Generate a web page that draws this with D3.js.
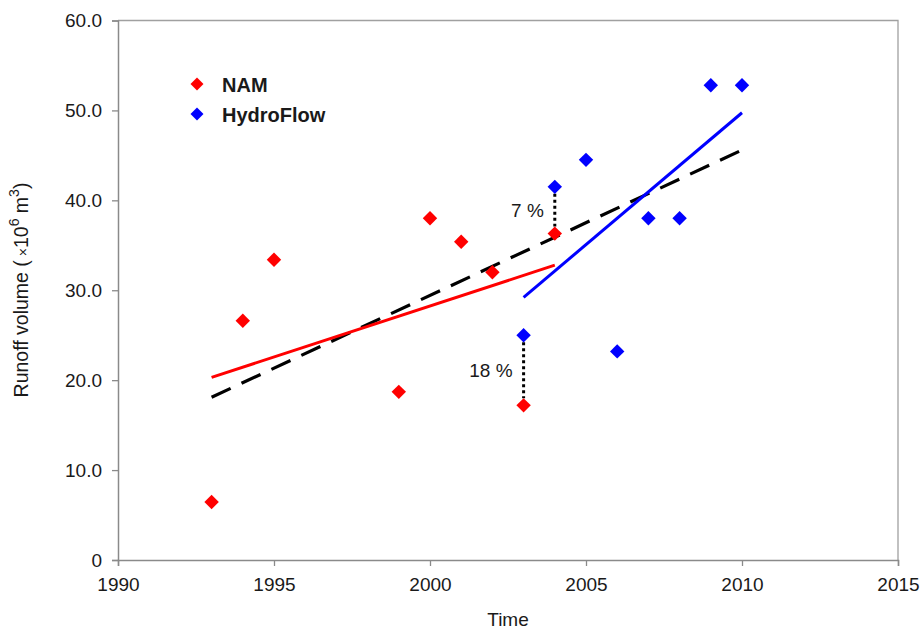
<!DOCTYPE html>
<html>
<head>
<meta charset="utf-8">
<script src="https://cdn.jsdelivr.net/npm/d3@7"></script>
<style>
  html, body { margin: 0; padding: 0; background: #fff; }
  svg { display: block; font-family: "Liberation Sans", Arial, sans-serif; }
</style>
</head>
<body>
<svg id="chart" width="922" height="629"></svg>
<script>
// Annual runoff volumes (x10^6 m^3) from the two models
const namYears = [1993, 1994, 1995, 1999, 2000, 2001, 2002, 2003, 2004];
const namValues = [6.45, 26.6, 33.4, 18.7, 38.0, 35.4, 32.0, 17.2, 36.3];

const hydroYears = [2003, 2004, 2005, 2006, 2007, 2008, 2009, 2010];
const hydroValues = [25.0, 41.5, 44.5, 23.2, 38.0, 38.0, 52.8, 52.8];

// Overall trend (dashed line) endpoints
const overallTrendYears = [1993, 2010];
const overallTrendValues = [18.1, 45.6];

// Overlap years annotated with the model difference
const gapYears = [2003, 2004];
const gapLabels = ["18 %", "7 %"];

const xTicks = [1990, 1995, 2000, 2005, 2010, 2015];
const yTicks = [0, 10, 20, 30, 40, 50, 60];

const seriesNames = ["NAM", "HydroFlow"];
const seriesColors = ["#ff0000", "#0000ff"];

const svg = d3.select("#chart");

const x = d3.scaleLinear().domain([1990, 2015]).range([118, 898]);
const y = d3.scaleLinear().domain([0, 60]).range([560, 20.5]);

const axisColor = "#8a8a8a";
const textColor = "#1a1a1a";

// Plot frame (top and right edges)
svg.append("path")
  .attr("d", `M${x(1990)},${y(60)}H${x(2015)}V${y(0)}`)
  .attr("fill", "none")
  .attr("stroke", "#a0a0a0")
  .attr("stroke-width", 1.3);

// Axes
const yAxis = d3.axisLeft(y).tickValues(yTicks).tickSize(6).tickPadding(10)
  .tickFormat(d => d === 0 ? "0" : d3.format(".1f")(d));
const gy = svg.append("g").attr("transform", `translate(${x(1990)},0)`).call(yAxis);

const xAxis = d3.axisBottom(x).tickValues(xTicks).tickSize(6).tickPadding(12)
  .tickFormat(d3.format("d"));
const gx = svg.append("g").attr("transform", `translate(0,${y(0)})`).call(xAxis);

[gx, gy].forEach(g => {
  g.select(".domain").attr("stroke", axisColor).attr("stroke-width", 1.5);
  g.selectAll(".tick line").attr("stroke", axisColor).attr("stroke-width", 1.3);
  g.selectAll(".tick text")
    .attr("fill", textColor)
    .style("font-size", "19px")
    .style("font-family", "'Liberation Sans', Arial, sans-serif");
});

// Axis titles
svg.append("text")
  .attr("x", 508).attr("y", 626)
  .attr("text-anchor", "middle")
  .attr("fill", textColor)
  .style("font-size", "19px")
  .text("Time");

const yTitle = svg.append("text")
  .attr("transform", `translate(28,290) rotate(-90)`)
  .attr("text-anchor", "middle")
  .attr("fill", textColor)
  .style("font-size", "19.5px");
yTitle.append("tspan").text("Runoff volume (");
yTitle.append("tspan").style("font-size", "14px").text(" \u00d7");
yTitle.append("tspan").text("10");
yTitle.append("tspan").attr("dy", -9).style("font-size", "14px").text("6");
yTitle.append("tspan").attr("dy", 9).text(" m");
yTitle.append("tspan").attr("dy", -9).style("font-size", "14px").text("3");
yTitle.append("tspan").attr("dy", 9).text(")");

// Least-squares trend over a series
function linearFit(xs, ys) {
  const mx = d3.mean(xs), my = d3.mean(ys);
  let sxy = 0, sxx = 0;
  xs.forEach((v, i) => { sxy += (v - mx) * (ys[i] - my); sxx += (v - mx) * (v - mx); });
  const b = sxy / sxx;
  const a = my - b * mx;
  const x0 = d3.min(xs), x1 = d3.max(xs);
  return [[x0, a + b * x0], [x1, a + b * x1]];
}

const line = d3.line().x(d => x(d[0])).y(d => y(d[1]));

// Overall dashed trend
svg.append("path")
  .datum(overallTrendYears.map((yr, i) => [yr, overallTrendValues[i]]))
  .attr("d", line)
  .attr("fill", "none")
  .attr("stroke", "#000")
  .attr("stroke-width", 3.2)
  .attr("stroke-dasharray", "21,12");

// Per-model trends
const series = [
  { years: namYears, values: namValues },
  { years: hydroYears, values: hydroValues }
];
series.forEach((s, i) => {
  svg.append("path")
    .datum(linearFit(s.years, s.values))
    .attr("d", line)
    .attr("fill", "none")
    .attr("stroke", seriesColors[i])
    .attr("stroke-width", 3);
});

// Dotted connectors between models in overlap years
gapYears.forEach((yr, i) => {
  const vNam = namValues[namYears.indexOf(yr)];
  const vHyd = hydroValues[hydroYears.indexOf(yr)];
  svg.append("line")
    .attr("x1", x(yr)).attr("x2", x(yr))
    .attr("y1", y(vHyd) + 7).attr("y2", y(vNam) - 7)
    .attr("stroke", "#000")
    .attr("stroke-width", 3)
    .attr("stroke-dasharray", "3,3");
  svg.append("text")
    .attr("x", x(yr) - 11)
    .attr("y", (y(vHyd) + y(vNam)) / 2 + 7)
    .attr("text-anchor", "end")
    .attr("fill", textColor)
    .style("font-size", "19px")
    .text(gapLabels[i]);
});

// Diamond markers
const diamond = d3.symbol().type(d3.symbolSquare).size(104);
series.forEach((s, i) => {
  svg.append("g").selectAll("path")
    .data(s.years.map((yr, j) => [yr, s.values[j]]))
    .join("path")
    .attr("d", diamond)
    .attr("transform", d => `translate(${x(d[0])},${y(d[1])}) rotate(45)`)
    .attr("fill", seriesColors[i]);
});

// Legend
const legend = svg.append("g").attr("transform", "translate(197,84)");
seriesNames.forEach((name, i) => {
  const row = legend.append("g").attr("transform", `translate(0,${i * 30})`);
  row.append("path")
    .attr("d", d3.symbol().type(d3.symbolSquare).size(84))
    .attr("transform", "rotate(45)")
    .attr("fill", seriesColors[i]);
  row.append("text")
    .attr("x", 25).attr("y", 7.5)
    .attr("fill", textColor)
    .style("font-size", "20px")
    .style("font-weight", "bold")
    .text(name);
});
</script>
</body>
</html>
